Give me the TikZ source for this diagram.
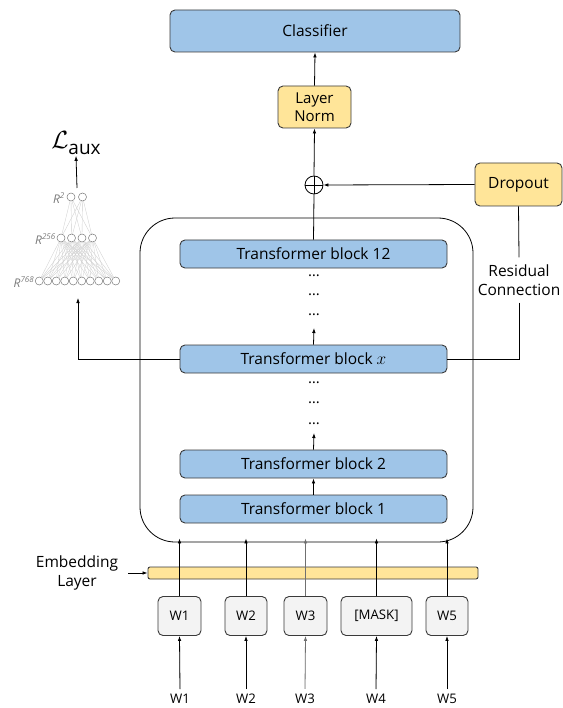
\documentclass[tikz,border=0pt]{standalone}
\usepackage{fontspec}
\setmainfont{Open Sans}
\usetikzlibrary{arrows.meta}
\definecolor{blockblue}{HTML}{9FC5E8}
\definecolor{normyellow}{HTML}{FFE599}
\definecolor{tokgray}{HTML}{F3F3F3}
\definecolor{outline}{HTML}{3A3A3A}
\definecolor{netgray}{HTML}{7A7A7A}
\definecolor{netedge}{HTML}{D0D0D0}
\definecolor{softline}{HTML}{707070}

\begin{document}
\begin{tikzpicture}[x=1pt,y=-1pt,
  font=\fontsize{15.5}{19}\selectfont,
  card/.style={draw=outline, line width=0.9pt, rounded corners=5pt, inner sep=0pt, align=center},
  bluebox/.style={card, fill=blockblue},
  yellowbox/.style={card, fill=normyellow},
  tokbox/.style={card, fill=tokgray, minimum height=39pt, font=\fontsize{13.2}{15}\selectfont},
  tfblock/.style={bluebox, minimum width=267pt, minimum height=28pt},
  dotrow/.style={inner sep=1pt, font=\fontsize{15}{15}\selectfont},
  arr/.style={-{Latex[length=5pt,width=3.6pt]}, line width=0.8pt},
  plain/.style={line width=0.8pt},
  inlab/.style={inner sep=5pt, font=\fontsize{13.2}{15}\selectfont},
  neuron/.style={circle, draw=netgray, fill=white, line width=0.5pt, minimum size=8pt, inner sep=0pt},
  rlab/.style={text=netgray, font=\fontsize{12}{12}\selectfont\itshape, inner sep=1pt},
  synapse/.style={draw=netedge, line width=0.35pt}
]
\useasboundingbox (0,0) rectangle (562,708);

% ---------------- encoder stack ----------------
\node[draw, line width=0.8pt, rounded corners=35pt, minimum width=333pt, minimum height=324pt] (enc) at (306.5,380) {};

\node[tfblock] (b12) at (313.5,254) {Transformer block 12};
\node[tfblock] (bx)  at (313.5,359) {Transformer block {\fontsize{17.5}{19}\selectfont$x$}};
\node[tfblock] (b2)  at (313.5,464) {Transformer block 2};
\node[tfblock] (b1)  at (313.5,509) {Transformer block 1};

\node[dotrow] (d1) at (314,276) {…};
\node[dotrow] (d2) at (314,295) {…};
\node[dotrow] (d3) at (314,315) {…};
\node[dotrow] (d4) at (314,383) {…};
\node[dotrow] (d5) at (314,403) {…};
\node[dotrow] (d6) at (314,424) {…};

\coordinate (upx) at (314,328);
\coordinate (up2) at (314,433);
\draw[arr] (b1.north) -- (b2.south);
\draw[arr] (b2.north) -- (up2);
\draw[arr] (bx.north) -- (upx);

% ---------------- head ----------------
\node[bluebox, minimum width=290pt, minimum height=42pt] (cls) at (315,31) {Classifier};
\node[yellowbox, minimum width=73pt, minimum height=42pt, font=\fontsize{15}{18}\selectfont] (norm) at (314.5,107) {Layer\\Norm};
\node[circle, draw, line width=0.8pt, minimum size=18pt, inner sep=0pt] (add) at (314,185) {};
\draw[plain] (add.west) -- (add.east);
\draw[plain] (add.north) -- (add.south);
\node[yellowbox, minimum width=87pt, minimum height=43pt] (drop) at (518.5,184.5) {Dropout};
\node[inner sep=7pt, align=center] (res) at (519,280) {Residual\\Connection};

\draw[plain] (b12.north) -- (add.south);
\draw[arr] (add.north) -- (norm.south);
\draw[arr] (norm.north) -- (cls.south);
\draw[arr] (drop.west) -- (add.east);
\draw[plain] (drop.south) -- (res.north);
\draw[plain] (res.south) |- (bx.east);

% ---------------- auxiliary probe ----------------
\foreach \i in {1,...,10} {
  \node[neuron] (a\i) at ({39.25+8.5*(\i-1)},281) {};
}
\foreach \i in {1,...,4} {
  \node[neuron] (h\i) at ({61+10.5*(\i-1)},238) {};
}
\node[neuron] (o1) at (71,197) {};
\node[neuron] (o2) at (82.5,197) {};
\foreach \i in {1,...,10} {
  \foreach \j in {1,...,4} {
    \draw[synapse] (a\i) -- (h\j);
  }
}
\foreach \j in {1,...,4} {
  \draw[synapse] (h\j) -- (o1);
  \draw[synapse] (h\j) -- (o2);
}
\node[rlab, anchor=east] at (66,198) {R\textsuperscript{2}};
\node[rlab, anchor=east] at (57,239) {R\textsuperscript{256}};
\node[rlab, anchor=east] at (35.5,282) {R\textsuperscript{768}};

\node[inner sep=1pt] (laux) at (76,143) {{\fontsize{23}{23}\selectfont$\mathcal{L}$}\raisebox{-6pt}{\fontsize{19}{19}\selectfont aux}};
\coordinate (netout) at (77,188);
\coordinate (netin) at (78,298);
\draw[arr] (netout) -- (laux.south);
\draw[arr] (bx.west) -| (netin);

% ---------------- embeddings and tokens ----------------
\node[yellowbox, rounded corners=2pt, minimum width=330pt, minimum height=12pt] (emb) at (313,573) {};
\node[align=center, font=\fontsize{15.5}{19}\selectfont] (emblab) at (77,573) {Embedding\\Layer};
\coordinate (embin) at (128,573);
\draw[arr] (embin) -- (emb.west);

\node[tokbox, minimum width=43pt] (t1) at (179.5,616) {W1};
\node[tokbox, minimum width=42pt] (t2) at (246,616) {W2};
\node[tokbox, minimum width=43pt] (t3) at (305.5,616) {W3};
\node[tokbox, minimum width=71pt] (t4) at (376.5,616) {[MASK]};
\node[tokbox, minimum width=42pt] (t5) at (447,616) {W5};

\node[inlab] (w1) at (180,699) {W1};
\node[inlab] (w2) at (246,699) {W2};
\node[inlab] (w3) at (305,699) {W3};
\node[inlab] (w4) at (376,699) {W4};
\node[inlab] (w5) at (447,699) {W5};

\foreach \k/\c in {1/black,2/black,3/softline,4/black,5/black} {
  \draw[arr, draw=\c, fill=\c] (w\k.north) -- (t\k.south);
  \draw[arr, draw=\c, fill=\c] (t\k.north) -- ([yshift=4pt]t\k.north |- enc.south);
}
\end{tikzpicture}
\end{document}
